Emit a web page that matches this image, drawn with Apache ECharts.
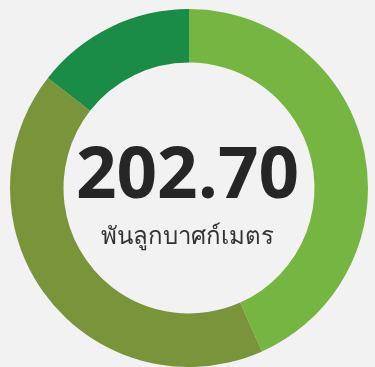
<!DOCTYPE html>
<html>
<head>
<meta charset="utf-8">
<style>
  html, body { margin: 0; padding: 0; background: #f2f2f2; }
  #chart { width: 375px; height: 367px; }
</style>
<script src="https://cdn.jsdelivr.net/npm/echarts@6/dist/echarts.min.js"></script>
</head>
<body>
<div id="chart"></div>
<script>
  // Volume shares (thousand cubic metres)
  const categories = ['A', 'B', 'C'];
  const values = [87.8, 85.6, 29.3];
  const colors = ['#77b543', '#7a943c', '#1a8c47'];
  const unitLabel = 'พันลูกบาศก์เมตร';

  const total = values.reduce((s, v) => s + v, 0);

  const chart = echarts.init(document.getElementById('chart'), null, { renderer: 'canvas' });
  chart.setOption({
    backgroundColor: '#f2f2f2',
    animation: false,
    series: [{
      type: 'pie',
      center: [189, 188],
      radius: [125.5, 179],
      startAngle: 90,
      clockwise: true,
      silent: true,
      label: { show: false },
      labelLine: { show: false },
      itemStyle: { borderWidth: 0 },
      data: categories.map((c, i) => ({
        name: c,
        value: values[i],
        itemStyle: { color: colors[i] }
      }))
    }],
    graphic: [
      {
        type: 'text',
        left: 'center',
        top: 142,
        style: {
          text: total.toFixed(2),
          font: 'bold 71px "Open Sans", "Noto Sans", sans-serif',
          fill: '#262626'
        }
      },
      {
        type: 'text',
        left: 'center',
        top: 225,
        style: {
          text: unitLabel,
          font: '24px "Noto Sans", "Open Sans", sans-serif',
          fill: '#333333'
        }
      }
    ]
  });
</script>
</body>
</html>
